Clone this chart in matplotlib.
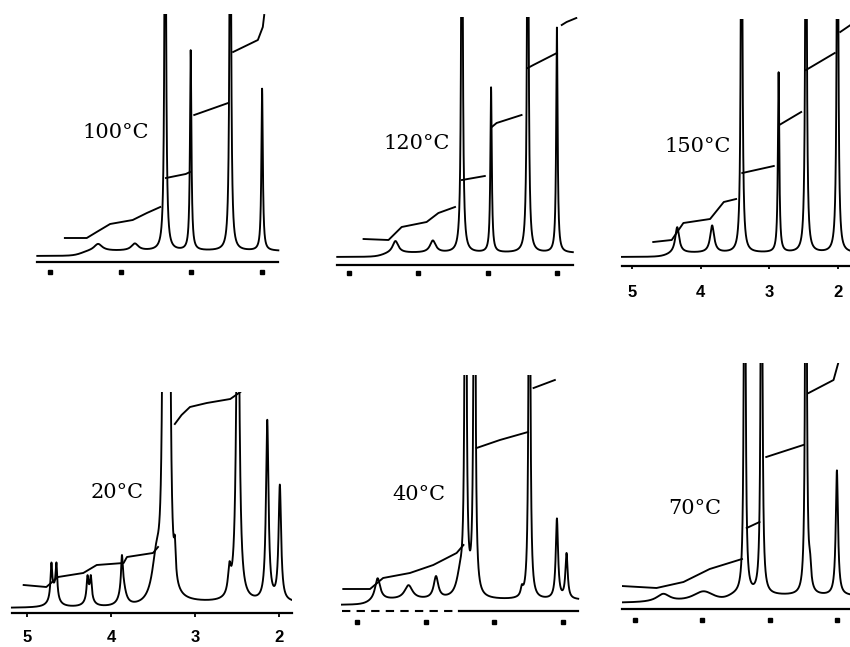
import numpy as np
import matplotlib
matplotlib.use("Agg")
import matplotlib.pyplot as plt

W, H = 850, 647
nan = np.nan

# ---------------------------------------------------------------
# values: chemical shift (ppm), heights in pixels
# above each panel's axis line, half widths in ppm
# ---------------------------------------------------------------
temps = ["100°C", "120°C", "150°C", "20°C", "40°C", "70°C"]
tick_ppm = [5, 4, 3, 2]
tick_labels = ["5", "4", "3", "2"]

# baseline: level at high ppm, level at low ppm, ppm of the step
base_100 = (6, 11, 4.55)
base_120 = (8, 12, 4.50)
base_150 = (9, 13, 4.47)
base_20 = (5, 10, 3.50)
base_40 = (6, 11, 4.80)
base_70 = (6, 13, 3.60)

pk_100_ppm = [4.32, 3.80, 3.37, 3.01, 2.45, 2.00]
pk_100_h = [7, 7, 500, 200, 500, 162]
pk_100_w = [0.07, 0.06, 0.012, 0.012, 0.012, 0.012]

pk_120_ppm = [4.33, 3.79, 3.37, 2.95, 2.42, 2.00]
pk_120_h = [12, 12, 500, 165, 500, 225]
pk_120_w = [0.05, 0.05, 0.012, 0.012, 0.012, 0.012]

pk_150_ppm = [4.34, 3.83, 3.40, 2.86, 2.46, 2.00]
pk_150_h = [26, 27, 500, 180, 500, 500]
pk_150_w = [0.035, 0.035, 0.012, 0.012, 0.012, 0.012]

pk_20_ppm = [4.71, 4.65, 4.68, 4.28, 4.24, 4.26, 3.87, 3.86, 3.46, 3.37, 3.31,
             3.24, 2.59, 2.49, 2.14, 1.99]
pk_20_h = [32, 32, 16, 20, 20, 12, 30, 22, 40, 600, 600, 30, 25, 400, 180, 115]
pk_20_w = [0.012, 0.012, 0.05, 0.012, 0.012, 0.045, 0.012, 0.04, 0.06, 0.015,
           0.015, 0.012, 0.02, 0.02, 0.018, 0.018]

pk_40_ppm = [4.70, 4.25, 3.85, 3.50, 3.42, 3.29, 2.60, 2.49, 2.09, 1.95]
pk_40_h = [22, 14, 22, 20, 600, 600, 8, 600, 80, 45]
pk_40_w = [0.045, 0.07, 0.04, 0.06, 0.013, 0.013, 0.02, 0.012, 0.02, 0.02]

pk_70_ppm = [4.58, 3.98, 3.37, 3.12, 2.46, 2.40, 2.00]
pk_70_h = [8, 11, 600, 600, 600, 22, 125]
pk_70_w = [0.12, 0.2, 0.012, 0.012, 0.012, 0.02, 0.02]

# integral traces (nan = break in the pen trace)
int_100_ppm = [4.79, 4.48, 4.34, 4.15, 3.83, 3.63, 3.44, nan, 3.36, 3.08, 3.02, nan,
               2.96, 2.48, nan, 2.41, 2.06, 1.99, 1.97]
int_100_h = [24, 24, 30, 38, 42, 49, 55, nan, 84, 88, 90, nan,
             147, 159, nan, 210, 222, 235, 247]

int_120_ppm = [4.79, 4.43, 4.24, 3.88, 3.71, 3.47, nan, 3.37, 3.04, nan,
               2.94, 2.87, 2.51, nan, 2.42, 2.34, 2.00, nan, 1.93, 1.86, 1.72]
int_120_h = [26, 25, 38, 43, 52, 58, nan, 85, 89, nan,
             138, 142, 150, nan, 197, 200, 212, nan, 240, 243, 247]

int_150_ppm = [4.69, 4.42, 4.25, 3.86, 3.66, 3.48, nan, 3.39, 2.93, nan,
               2.85, 2.53, nan, 2.46, 2.04, nan, 1.96, 1.81]
int_150_h = [24, 26, 43, 47, 64, 67, nan, 93, 100, nan,
             141, 154, nan, 196, 213, nan, 234, 241]

int_20_ppm = [5.04, 4.77, 4.63, 4.33, 4.17, 3.85, 3.81, 3.50, 3.44, nan,
              3.24, 3.16, 3.06, 2.86, 2.58, 2.46]
int_20_h = [28, 26, 36, 40, 48, 50, 56, 60, 66, nan,
            189, 198, 206, 210, 214, 221]

int_40_ppm = [5.20, 4.81, 4.62, 4.23, 3.89, 3.55, 3.45, nan, 3.26, 2.92, 2.51, nan,
              2.43, 2.12]
int_40_h = [22, 22, 33, 38, 46, 58, 66, nan, 163, 171, 179, nan, 223, 231]

int_70_ppm = [5.20, 4.68, 4.28, 3.89, 3.41, nan, 3.34, 3.15, nan, 3.05, 2.50, nan,
              2.42, 2.05, 1.98]
int_70_h = [23, 21, 27, 40, 50, nan, 81, 87, nan, 152, 164, nan, 216, 229, 246]


def lorentz_sum(x, centers, heights, widths):
    y = np.zeros_like(x)
    for c, h, w in zip(centers, heights, widths):
        y += h / (1 + ((x - c) / w) ** 2)
    return y


def baseline(x, lo, hi, shelf):
    return lo + (hi - lo) / (1 + np.exp((x - shelf) / 0.06))


fig = plt.figure(figsize=(W / 100, H / 100), dpi=100)

# layout in pixels: ppm=5 tick x, px per ppm, axis line y, top clip y,
# xlim, extent of the axis line, tick style, label centre
panels = [
    dict(x5=50, s=70.7, ay=262, ty=14, xl=(5.20, 1.72), ax_ext=(5.18, 1.77), tick="dot", dot_y=-10,
         label_xy=(116, 132), base=base_100, pk=(pk_100_ppm, pk_100_h, pk_100_w),
         integ=(int_100_ppm, int_100_h)),
    dict(x5=349, s=69.3, ay=265, ty=17, xl=(5.20, 1.70), ax_ext=(5.17, 1.77), tick="dot", dot_y=-8,
         label_xy=(417, 144), base=base_120, pk=(pk_120_ppm, pk_120_h, pk_120_w),
         integ=(int_120_ppm, int_120_h)),
    dict(x5=632, s=68.5, ay=266, ty=19, xl=(5.16, 1.81), ax_ext=(5.15, 1.81), tick="mark", lab_y=-27,
         label_xy=(698, 146), base=base_150, pk=(pk_150_ppm, pk_150_h, pk_150_w),
         integ=(int_150_ppm, int_150_h)),
    dict(x5=27, s=84.0, ay=613, ty=392, xl=(5.20, 1.84), ax_ext=(5.18, 1.85), tick="mark", lab_y=-24,
         label_xy=(117, 493), base=base_20, pk=(pk_20_ppm, pk_20_h, pk_20_w),
         integ=(int_20_ppm, int_20_h)),
    dict(x5=357, s=68.7, ay=611, ty=375, xl=(5.23, 1.76), ax_ext=(5.22, 1.78), tick="dot", dot_y=-11,
         label_xy=(419, 495), base=base_40, pk=(pk_40_ppm, pk_40_h, pk_40_w),
         integ=(int_40_ppm, int_40_h), dash_to=3.52),
    dict(x5=635, s=67.3, ay=609, ty=363, xl=(5.20, 1.80), ax_ext=(5.20, 1.81), tick="dot", dot_y=-11,
         label_xy=(695, 508), base=base_70, pk=(pk_70_ppm, pk_70_h, pk_70_w),
         integ=(int_70_ppm, int_70_h)),
]

for p, temp in zip(panels, temps):
    xl, xr = p["xl"]
    left = p["x5"] - (xl - 5) * p["s"]
    right = p["x5"] + (5 - xr) * p["s"]
    bottom = p["ay"] + 14
    ax = fig.add_axes([left / W, 1 - bottom / H, (right - left) / W, (bottom - p["ty"]) / H])
    ax.set_xlim(xl, xr)
    ax.set_ylim(-14, p["ay"] - p["ty"])
    ax.axis("off")

    a0, a1 = p["ax_ext"]
    x = np.linspace(a0, a1, 8000)
    y = baseline(x, *p["base"]) + lorentz_sum(x, *p["pk"])
    ax.plot(x, y, color="black", lw=1.35)

    ax.plot(p["integ"][0], p["integ"][1], color="black", lw=1.35)

    # axis line (partly broken in the 40°C scan)
    if "dash_to" in p:
        ax.plot([a0, p["dash_to"]], [0, 0], color="black", lw=1.5, ls=(0, (4, 3)), clip_on=False)
        ax.plot([p["dash_to"], a1], [0, 0], color="black", lw=1.6, clip_on=False)
    else:
        ax.plot([a0, a1], [0, 0], color="black", lw=1.6, clip_on=False)

    if p["tick"] == "dot":
        ax.plot(tick_ppm, [p["dot_y"]] * len(tick_ppm), "s", ms=2.2, color="black", clip_on=False)
    else:
        ax.vlines(tick_ppm, -3.5, 0, color="black", lw=1.3, clip_on=False)
        for t, lab in zip(tick_ppm, tick_labels):
            ax.text(t, p["lab_y"], lab, ha="center", va="center", fontsize=12,
                    fontweight="bold", family="Liberation Sans")

    lx, ly = p["label_xy"]
    fig.text(lx / W, 1 - ly / H, temp, ha="center", va="center", fontsize=15,
             family="DejaVu Serif")

fig.savefig("out.png", dpi=100)
